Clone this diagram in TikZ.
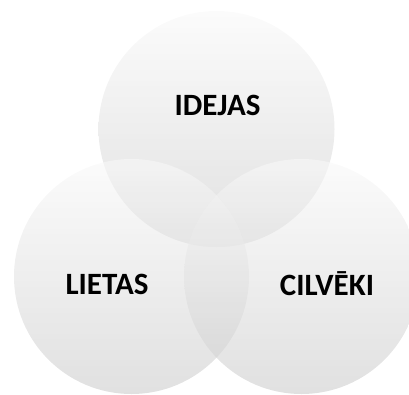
\documentclass[tikz,border=0pt]{standalone}
\usepackage{fontspec}
\setmainfont{Carlito}
\definecolor{venntop}{rgb}{0.975,0.975,0.975}
\definecolor{vennbot}{rgb}{0.80,0.80,0.80}
\begin{document}
\begin{tikzpicture}[x=1pt,y=1pt,
  venn/.style={circle,inner sep=0pt,minimum size=#1,top color=venntop,bottom color=vennbot,fill opacity=0.6,draw=none},
  lbl/.style={font=\fontsize{31}{31}\selectfont\bfseries,text=black,inner sep=0pt}]
\useasboundingbox (0,0) rectangle (409,394);
\clip (0,0) rectangle (409,394);
\node[venn=236pt] (top) at (216.5,265) {};
\node[venn=235pt] (left) at (131.5,117.5) {};
\node[venn=235pt] (right) at (301.5,117.5) {};
\node[lbl] (tidejas) at (217.5,289) {IDEJAS};
\node[lbl] (tlietas) at (107,110) {LIETAS};
\node[lbl] (tcilv) at (327,110) {CILVĒKI};
\end{tikzpicture}
\end{document}
